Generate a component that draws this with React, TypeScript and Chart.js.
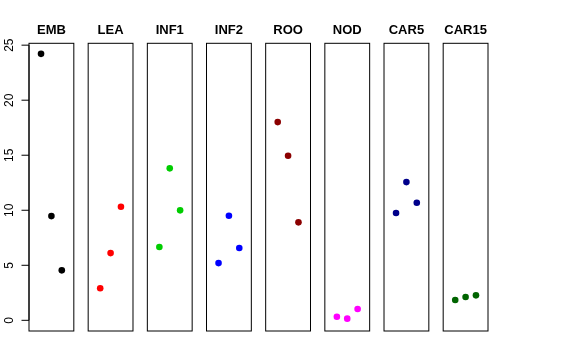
import React, { useEffect, useRef } from "react";
import { Chart, registerables } from "chart.js";

Chart.register(...registerables);

const groups = ["EMB", "LEA", "INF1", "INF2", "ROO", "NOD", "CAR5", "CAR15"];
const colors = ["#000000", "#FF0000", "#00CD00", "#0000FF", "#8B0000", "#FF00FF", "#00008B", "#006400"];
const EMB = [24.21, 9.47, 4.54];
const LEA = [2.91, 6.11, 10.32];
const INF1 = [6.66, 13.81, 9.99];
const INF2 = [5.2, 9.5, 6.57];
const ROO = [18.01, 14.95, 8.9];
const NOD = [0.33, 0.15, 1.03];
const CAR5 = [9.75, 12.56, 10.68];
const CAR15 = [1.84, 2.12, 2.27];
const seriesValues = [EMB, LEA, INF1, INF2, ROO, NOD, CAR5, CAR15];
const yTicks = [0, 5, 10, 15, 20, 25];

// panel geometry in x-data units: local x range [-0.16, 4.16]
const PANEL_W = 4.32;
const PANEL_GAP = 1.383;
const STEP = PANEL_W + PANEL_GAP;
const LOCAL_OFF = 0.16;

const panelsPlugin = {
  id: "panels",
  afterDatasetsDraw(chart: any) {
    const ctx = chart.ctx;
    const xs = chart.scales.x;
    const ys = chart.scales.y;
    const top = chart.chartArea.top;
    const bottom = chart.chartArea.bottom;
    ctx.save();
    ctx.strokeStyle = "#000000";
    ctx.lineWidth = 1;
    groups.forEach((g, i) => {
      const l = xs.getPixelForValue(i * STEP);
      const r = xs.getPixelForValue(i * STEP + PANEL_W);
      ctx.strokeRect(l, top, r - l, bottom - top);
      ctx.fillStyle = "#000000";
      ctx.font = "bold 13px 'Liberation Sans', Arial, sans-serif";
      ctx.textAlign = "center";
      ctx.textBaseline = "alphabetic";
      ctx.fillText(g, (l + r) / 2, 34);
    });
    // left y axis
    const axisX = xs.getPixelForValue(0);
    ctx.beginPath();
    ctx.moveTo(axisX, ys.getPixelForValue(yTicks[0]));
    ctx.lineTo(axisX, ys.getPixelForValue(yTicks[yTicks.length - 1]));
    ctx.stroke();
    ctx.font = "12px 'Liberation Sans', Arial, sans-serif";
    yTicks.forEach((v) => {
      const py = ys.getPixelForValue(v);
      ctx.beginPath();
      ctx.moveTo(axisX - 7.5, py);
      ctx.lineTo(axisX, py);
      ctx.stroke();
      ctx.save();
      ctx.translate(13, py);
      ctx.rotate(-Math.PI / 2);
      ctx.textAlign = "center";
      ctx.textBaseline = "alphabetic";
      ctx.fillStyle = "#000000";
      ctx.fillText(String(v), 0, 0);
      ctx.restore();
    });
    ctx.restore();
  },
};

export default function App() {
  const ref = useRef<HTMLCanvasElement | null>(null);
  useEffect(() => {
    if (!ref.current) return;
    const datasets = groups.map((g, i) => ({
      label: g,
      data: seriesValues[i].map((v, j) => ({ x: i * STEP + LOCAL_OFF + (j + 1), y: v })),
      backgroundColor: colors[i],
      borderColor: colors[i],
      pointRadius: 3.3,
      pointBorderWidth: 0,
      showLine: false,
    }));
    const chart = new Chart(ref.current, {
      type: "scatter",
      data: { datasets },
      options: {
        responsive: false,
        animation: false,
        devicePixelRatio: 1,
        layout: { padding: { left: 29, right: 88, top: 43.3, bottom: 29 } },
        plugins: { legend: { display: false }, tooltip: { enabled: false } },
        scales: {
          x: { type: "linear", display: false, min: 0, max: 7 * STEP + PANEL_W },
          y: { type: "linear", display: false, min: -0.97, max: 25.17 },
        },
      },
      plugins: [panelsPlugin],
    });
    return () => chart.destroy();
  }, []);
  return (
    <div style={{ position: "absolute", left: 0, top: 0, width: 576, height: 360, background: "#ffffff" }}>
      <canvas ref={ref} width={576} height={360} style={{ display: "block" }} />
    </div>
  );
}
